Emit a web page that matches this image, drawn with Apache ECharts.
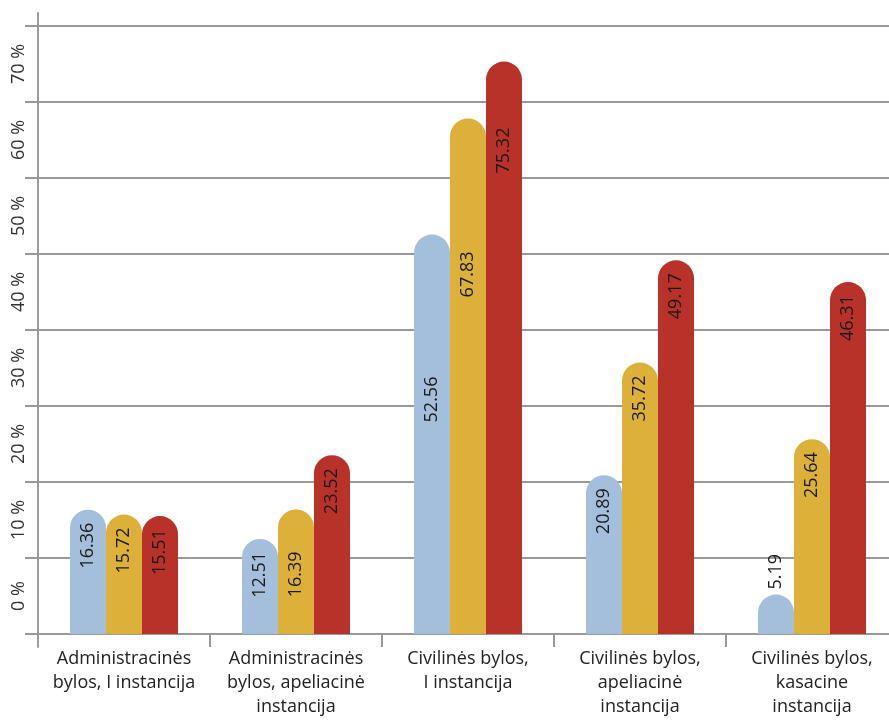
<!DOCTYPE html>
<html>
<head>
<meta charset="utf-8">
<script src="https://cdn.jsdelivr.net/npm/echarts@6/dist/echarts.min.js"></script>
<style>
html,body{margin:0;padding:0;background:#fff;}
#chart{width:889px;height:722px;}
</style>
</head>
<body>
<div id="chart"></div>
<script>
const categories = [
  'Administracinės\nbylos, I instancija',
  'Administracinės\nbylos, apeliacinė\ninstancija',
  'Civilinės bylos,\nI instancija',
  'Civilinės bylos,\napeliacinė\ninstancija',
  'Civilinės bylos,\nkasacine\ninstancija'
];
const valuesBlue = [16.36, 12.51, 52.56, 20.89, 5.19];
const valuesYellow = [15.72, 16.39, 67.83, 35.72, 25.64];
const valuesRed = [15.51, 23.52, 75.32, 49.17, 46.31];
const yTickLabels = ['0 %', '10 %', '20 %', '30 %', '40 %', '50 %', '60 %', '70 %'];

// label placement tweaks (style only)
const labelTweaks = {
  'y1': { distance: 42 },
  'b2': { distance: 142 },
  'y2': { distance: 133 },
  'r2': { distance: 66 },
  'b4': { position: 'top', align: 'left', distance: 5 }
};

const FONT = '"Open Sans", "DejaVu Sans", sans-serif';
const GRID_COLOR = '#9a9a9a';

function makeSeries(key, values, color) {
  return {
    type: 'bar',
    xAxisIndex: 0,
    yAxisIndex: 0,
    barWidth: 36,
    barGap: '0%',
    itemStyle: { color: color, borderRadius: [18, 18, 0, 0] },
    label: {
      show: true,
      position: 'insideTop',
      distance: 13,
      rotate: 90,
      align: 'right',
      verticalAlign: 'middle',
      fontFamily: FONT,
      fontSize: 18,
      color: '#1a1a1a',
      formatter: p => p.value.toFixed(2)
    },
    data: values.map((v, i) => {
      const t = labelTweaks[key + i];
      return t ? { value: v, label: t } : { value: v };
    })
  };
}

const chart = echarts.init(document.getElementById('chart'), null, { renderer: 'canvas' });
chart.setOption({
  animation: false,
  backgroundColor: '#ffffff',
  grid: [
    { left: 38, width: 860, top: 26, height: 608, containLabel: false, outerBoundsMode: 'none' },
    { left: 38, width: 860, top: 13, height: 634, containLabel: false, outerBoundsMode: 'none' }
  ],
  xAxis: [
    {
      type: 'category',
      gridIndex: 0,
      data: categories,
      axisLine: { lineStyle: { color: GRID_COLOR, width: 2 } },
      axisTick: { show: true, length: 13, lineStyle: { color: GRID_COLOR, width: 2 } },
      axisLabel: {
        interval: 0,
        margin: 13,
        fontFamily: FONT,
        fontSize: 18,
        lineHeight: 24,
        color: '#222'
      }
    },
    { type: 'category', gridIndex: 1, data: categories, show: false }
  ],
  yAxis: [
    { type: 'value', gridIndex: 0, min: 0, max: 80, interval: 10, show: false },
    {
      type: 'category',
      gridIndex: 0,
      data: yTickLabels,
      boundaryGap: true,
      position: 'left',
      axisLine: { show: false },
      axisTick: { show: true, length: 13, lineStyle: { color: GRID_COLOR, width: 2 } },
      splitLine: { show: true, lineStyle: { color: GRID_COLOR, width: 2 } },
      axisLabel: {
        rotate: 90,
        margin: 10,
        fontFamily: FONT,
        fontSize: 18,
        color: '#333'
      }
    },
    {
      type: 'value',
      gridIndex: 1,
      min: 0,
      max: 1,
      axisLine: { show: true, lineStyle: { color: GRID_COLOR, width: 2 } },
      axisTick: { show: false },
      axisLabel: { show: false },
      splitLine: { show: false }
    }
  ],
  series: [
    makeSeries('b', valuesBlue, '#a3bfdc'),
    makeSeries('y', valuesYellow, '#ddb03a'),
    makeSeries('r', valuesRed, '#b83229')
  ]
});
</script>
</body>
</html>
